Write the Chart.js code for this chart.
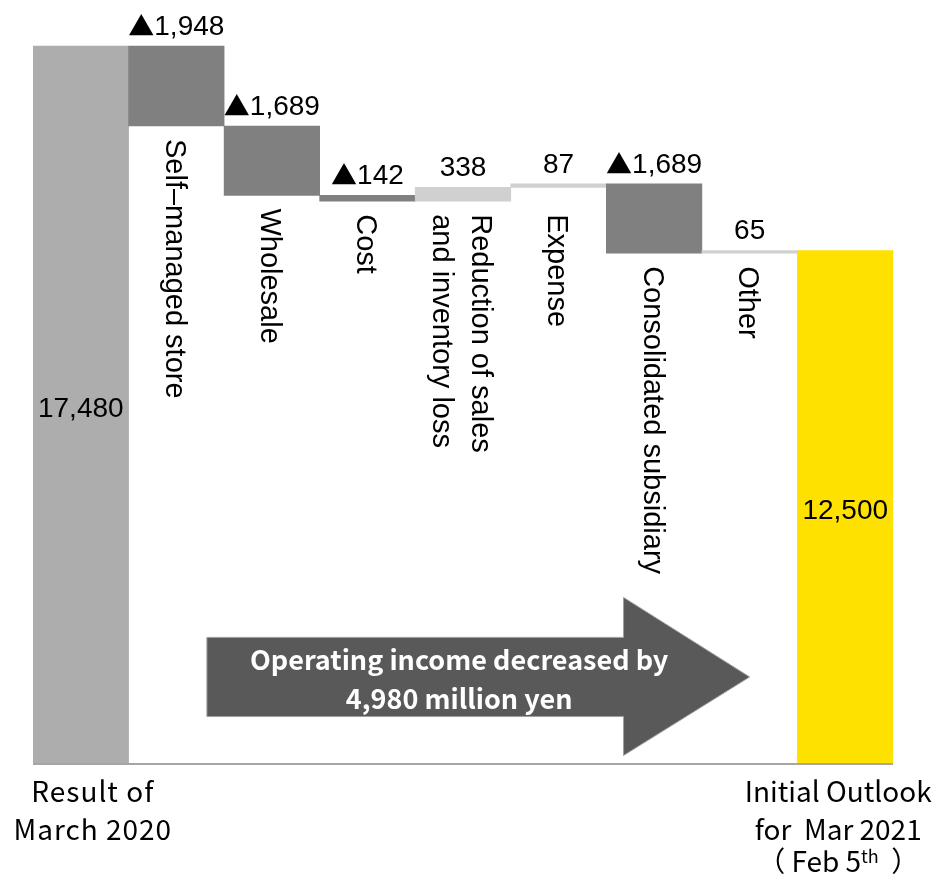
<!DOCTYPE html>
<html><head><meta charset="utf-8">
<script src="https://cdn.jsdelivr.net/npm/chart.js@4"></script>
<style>html,body{margin:0;padding:0;background:#fff;overflow:hidden}#wrap{width:937px;height:881px;position:relative}</style>
</head><body><div id="wrap"><canvas id="c" width="937" height="881"></canvas></div>
<script>
// ---- data ----
const categories = ['Result of March 2020','Self–managed store','Wholesale','Cost','Reduction of sales and inventory loss','Expense','Consolidated subsidiary','Other','Initial Outlook for Mar 2021 (Feb 5th)'];
const startTotal = 17480;
const changes = [-1948, -1689, -142, 338, 87, -1689, 65];
const endTotal = 12500;
const sideLabelLines = [null, ['Self–managed store'], ['Wholesale'], ['Cost'], ['Reduction of sales','and inventory loss'], ['Expense'], ['Consolidated subsidiary'], ['Other'], null];
const firstLabelLines = ['Result of','March 2020'];
const lastLabelLines = ['Initial Outlook','for  Mar 2021'];
const lastLabelNote = ['（ Feb 5','th','  ）'];
const arrowText = ['Operating income decreased by','4,980 million yen'];

// ---- build floating ranges ----
const ranges = [[0, startTotal]];
const kinds = ['total'];
let run = startTotal;
changes.forEach(d => { ranges.push([run, run + d]); kinds.push(d < 0 ? 'down' : 'up'); run += d; });
ranges.push([0, endTotal]); kinds.push('end');
const colorOf = {total:'#adadad', down:'#808080', up:'#d0d0d0', end:'#ffe100'};
const allValues = [startTotal, ...changes, endTotal];

const LAT = '"Liberation Sans", Arial, sans-serif';
const JP = '"Noto Sans CJK JP", sans-serif';

const overlay = {
  id: 'overlay',
  afterDatasetsDraw(chart) {
    const ctx = chart.ctx, xs = chart.scales.x, ys = chart.scales.y, ca = chart.chartArea;
    ctx.save();
    // baseline
    ctx.strokeStyle = '#a6a6a6'; ctx.lineWidth = 2;
    ctx.beginPath(); ctx.moveTo(ca.left, ys.getPixelForValue(0)); ctx.lineTo(ca.right, ys.getPixelForValue(0)); ctx.stroke();

    // value labels
    ctx.fillStyle = '#000';
    ranges.forEach((r, i) => {
      const v = allValues[i];
      const cx = xs.getPixelForValue(i);
      const num = Math.abs(v).toLocaleString('en-US');
      let y;
      if (kinds[i] === 'total' || kinds[i] === 'end') {
        y = (ys.getPixelForValue(r[0]) + ys.getPixelForValue(r[1])) / 2 + 12;
      } else {
        y = ys.getPixelForValue(Math.max(r[0], r[1])) - 11;
      }
      ctx.textBaseline = 'alphabetic';
      ctx.textAlign = 'left';
      ctx.font = '28px ' + LAT; const wn = ctx.measureText(num).width;
      let wt = 0;
      if (v < 0) { ctx.font = '26px ' + JP; wt = ctx.measureText('▲').width; }
      let sx = cx - (wn + wt) / 2;
      if (v < 0) { ctx.font = '26px ' + JP; ctx.fillText('▲', sx, y + 1); sx += wt; }
      ctx.font = '28px ' + LAT; ctx.fillText(num, sx, y);
    });

    // rotated category labels
    ctx.font = '29px ' + LAT;
    const capH = 21, lineH = 39;
    sideLabelLines.forEach((lines, i) => {
      if (!lines) return;
      let low = Math.min(ranges[i][0], ranges[i][1]);
      if (kinds[i-1] !== 'total') low = Math.min(low, ranges[i-1][0], ranges[i-1][1]);
      const y0 = ys.getPixelForValue(low) + 13;
      const cx = xs.getPixelForValue(i);
      ctx.save();
      ctx.translate(cx, y0);
      ctx.rotate(Math.PI / 2);
      ctx.textAlign = 'left'; ctx.textBaseline = 'alphabetic';
      const n = lines.length;
      lines.forEach((t, k) => {
        ctx.fillText(t, 0, capH / 2 + (k - (n - 1) / 2) * lineH);
      });
      ctx.restore();
    });

    // bottom labels
    ctx.textAlign = 'center'; ctx.textBaseline = 'alphabetic';
    const b = ca.bottom;
    ctx.letterSpacing = '1px';
    ctx.font = '28px ' + JP;
    const fx = xs.getPixelForValue(0) + 12;
    firstLabelLines.forEach((t, k) => ctx.fillText(t, fx, b + 38 + k * 38));
    ctx.letterSpacing = '0px';
    const lx = xs.getPixelForValue(8) - 7;
    lastLabelLines.forEach((t, k) => ctx.fillText(t, lx, b + 38 + k * 38));
    // note line with superscript
    ctx.textAlign = 'left';
    const supFont = '18px ' + JP;
    ctx.font = '28px ' + JP; const w1 = ctx.measureText(lastLabelNote[0]).width;
    ctx.font = supFont; const w2 = ctx.measureText(lastLabelNote[1]).width;
    ctx.font = '28px ' + JP; const w3 = ctx.measureText(lastLabelNote[2]).width;
    let sx = lx - (w1 + w2 + w3) / 2;
    const by = b + 38 + 2 * 35;
    ctx.fillText(lastLabelNote[0], sx, by);
    ctx.font = supFont; ctx.fillText(lastLabelNote[1], sx + w1, by - 9);
    ctx.font = '28px ' + JP; ctx.fillText(lastLabelNote[2], sx + w1 + w2, by);

    // summary arrow
    const X = v => xs.getPixelForValue(v), Y = v => ys.getPixelForValue(v);
    const bodyL = X(1.32), headB = X(5.68), tip = X(7.0);
    const bTop = Y(3082), bBot = Y(1157), hTop = Y(4056), hBot = Y(207), tipY = (bTop + bBot) / 2;
    ctx.beginPath();
    ctx.moveTo(bodyL, bTop); ctx.lineTo(headB, bTop); ctx.lineTo(headB, hTop); ctx.lineTo(tip, tipY);
    ctx.lineTo(headB, hBot); ctx.lineTo(headB, bBot); ctx.lineTo(bodyL, bBot); ctx.closePath();
    ctx.fillStyle = '#595959'; ctx.fill();
    ctx.strokeStyle = '#a0a0a0'; ctx.lineWidth = 1; ctx.stroke();
    ctx.fillStyle = '#fff'; ctx.font = 'bold 27px ' + JP; ctx.textAlign = 'center';
    const tx = X(3.96);
    ctx.fillText(arrowText[0], tx, bTop + 33);
    ctx.fillText(arrowText[1], tx, bTop + 72);
    ctx.restore();
  }
};

new Chart(document.getElementById('c'), {
  type: 'bar',
  data: {
    labels: categories,
    datasets: [{
      data: ranges,
      backgroundColor: kinds.map(k => colorOf[k]),
      borderWidth: 0,
      barPercentage: 1,
      categoryPercentage: 1
    }]
  },
  options: {
    responsive: false,
    animation: false,
    devicePixelRatio: 1,
    layout: { padding: { left: 33, right: 44, top: 0, bottom: 117 } },
    plugins: { legend: { display: false }, tooltip: { enabled: false } },
    scales: {
      x: { display: false },
      y: { display: false, min: 0, max: 18600 }
    }
  },
  plugins: [overlay]
});
</script></body></html>
